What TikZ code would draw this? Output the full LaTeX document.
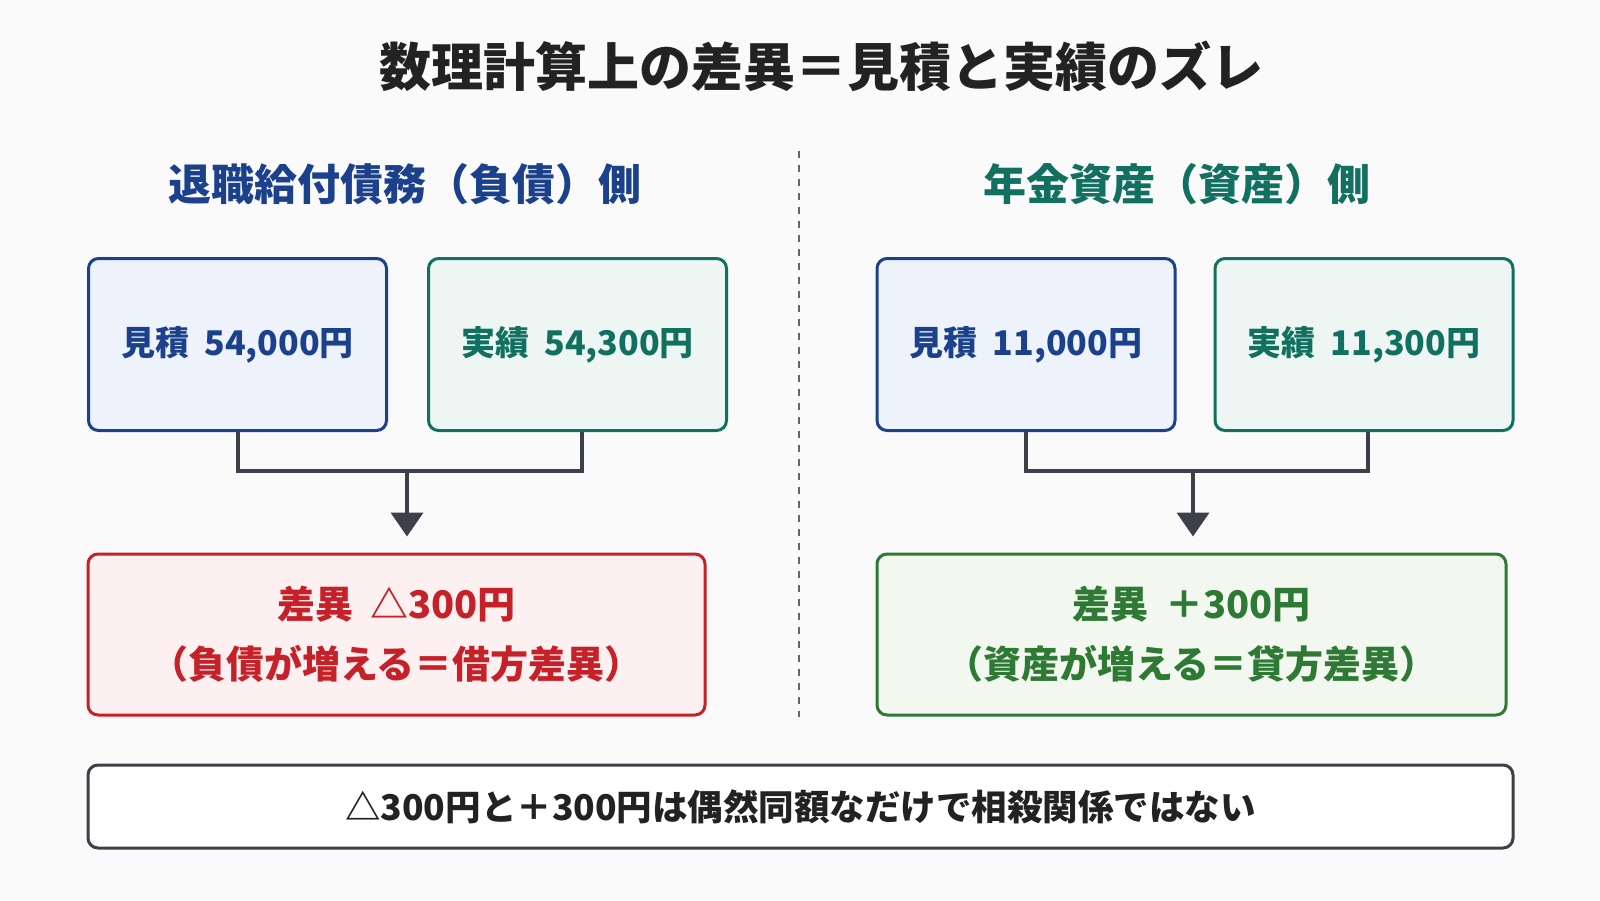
\documentclass[tikz,border=0pt]{standalone}
\usepackage{fontspec}
\setmainfont{Noto Sans CJK JP}
\usetikzlibrary{arrows.meta}
\definecolor{bg}{HTML}{FAFAFA}
\definecolor{navy}{HTML}{1B408C}
\definecolor{navyfill}{HTML}{EEF3FB}
\definecolor{teal}{HTML}{11705F}
\definecolor{tealfill}{HTML}{EEF6F4}
\definecolor{redc}{HTML}{C62129}
\definecolor{redfill}{HTML}{FDF0F0}
\definecolor{grn}{HTML}{2E7A34}
\definecolor{grnfill}{HTML}{F2F7F0}
\definecolor{darkg}{HTML}{3C4048}
\definecolor{titlec}{HTML}{222222}
\newcommand{\gap}{\hspace{0.45em}}
\tikzset{
  box/.style={draw, line width=3pt, rounded corners=10pt, inner sep=0pt, align=center},
  bluebox/.style={box, draw=navy, fill=navyfill, text=navy, minimum width=298pt, minimum height=172pt, font=\fontsize{34}{40}\selectfont\bfseries},
  tealbox/.style={box, draw=teal, fill=tealfill, text=teal, minimum width=298pt, minimum height=172pt, font=\fontsize{34}{40}\selectfont\bfseries},
  conn/.style={draw=darkg, line width=4pt},
  arr/.style={conn, -{Triangle[width=32pt,length=24pt]}},
}
\begin{document}
\begin{tikzpicture}[x=1pt,y=-1pt]
\useasboundingbox[fill=bg] (0,0) rectangle (1600,900);
% title
\node[text=titlec, font=\fontsize{52}{60}\selectfont\bfseries] (title) at (821,66) {数理計算上の差異＝見積と実績のズレ};
% headers
\node[text=navy, font=\fontsize{43}{50}\selectfont\bfseries] (hl) at (405,184) {退職給付債務（負債）側};
\node[text=teal, font=\fontsize{43}{50}\selectfont\bfseries] (hr) at (1177,184) {年金資産（資産）側};
% divider
\coordinate (d1) at (799,151);
\coordinate (d2) at (799,717);
\draw[darkg!80, line width=2pt, dash pattern=on 7pt off 7pt] (d1) -- (d2);
% top boxes
\node[bluebox] (b1) at (237.5,344.5) {見積\gap 54,000円};
\node[tealbox] (b2) at (577.5,344.5) {実績\gap 54,300円};
\node[bluebox] (b3) at (1026,344.5) {見積\gap 11,000円};
\node[tealbox] (b4) at (1364,344.5) {実績\gap 11,300円};
% result boxes
\node[box, draw=redc, fill=redfill, text=redc, minimum width=617pt, minimum height=161pt, font=\fontsize{38}{60}\selectfont\bfseries] (r1) at (396.5,634.5) {差異\gap △300円\\（負債が増える＝借方差異）};
\node[box, draw=grn, fill=grnfill, text=grn, minimum width=629pt, minimum height=161pt, font=\fontsize{38}{60}\selectfont\bfseries] (r2) at (1191.5,634.5) {差異\gap ＋300円\\（資産が増える＝貸方差異）};
% connectors
\coordinate (jl) at (407,471);
\coordinate (jr) at (1193,471);
\draw[conn] (b1.south) |- (jl) -| ([xshift=4pt]b2.south);
\draw[arr] (jl) -- ([yshift=16pt]r1.north -| jl);
\draw[conn] (b3.south) |- (jr) -| ([xshift=4pt]b4.south);
\draw[arr] (jr) -- ([yshift=16pt]r2.north -| jr);
% bottom note
\node[box, draw=darkg, fill=white, text=titlec, minimum width=1425pt, minimum height=83pt, font=\fontsize{35.5}{40}\selectfont\bfseries] (note) at (800.5,806.5) {△300円と＋300円は偶然同額なだけで相殺関係ではない};
\end{tikzpicture}
\end{document}
